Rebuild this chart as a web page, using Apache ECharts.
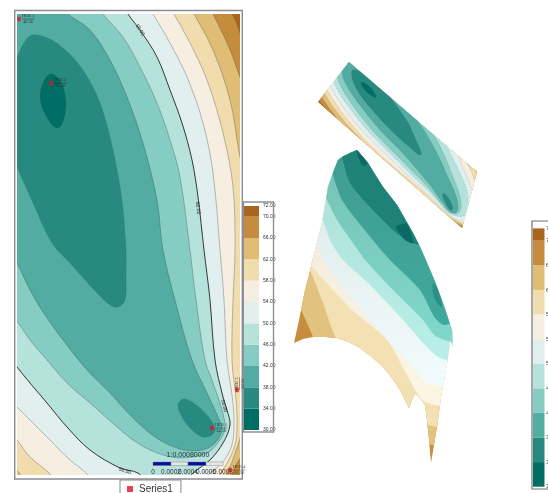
<!DOCTYPE html>
<html><head><meta charset="utf-8">
<style>html,body{margin:0;padding:0;background:#fff;overflow:hidden}#c{width:548px;height:493px;filter:blur(0.45px)}</style>
<script src="https://cdn.jsdelivr.net/npm/echarts@6/dist/echarts.min.js"></script>
</head><body><div id="c"></div>
<script>
// Colour ramp, one colour per 4-unit band
const bandLow  = [30,34,38,42,46,50,54,58,62,66,70];
const bandHigh = [34,38,42,46,50,54,58,62,66,70,72];
const bandColors = ['#006e64','#27897f','#52aca1','#85cdc2','#b6e2dc','#e1f0ee','#f6efe1','#f0dcac','#dfbd74','#c58c3d','#a9651d'];
const legendTicks = [30,34,38,42,46,50,54,58,62,66,70,72];

// Contour regions of the plan map ("everything below this level")
const contour70 = [[226,2],[232,14],[236,22],[241,36],[250,55],[260,200],[260,500],[-10,500],[-10,-10],[100,-14]];
const contour66 = [[207,2],[213,14],[222,32],[231,52],[240,77],[250,100],[262,300],[262,440],[243,455],[236,465],[232,476],[228,490],[100,500],[-10,500],[-10,-10],[100,-12]];
const contour62 = [[187,2],[194,14],[213,50],[230,100],[239,152],[248,200],[255,300],[250,420],[243,430],[238,445],[232,462],[226,476],[222,490],[100,495],[22,490],[20,474],[16,470],[5,462],[-10,440],[-12,-10],[100,-12]];
const contour58 = [[167,2],[174,14],[190,43],[207,80],[223,133],[233,187],[235,250],[233,300],[232,360],[236,400],[237,425],[235,445],[226,465],[219,476],[214,490],[130,495],[60,490],[50,474],[30,457],[17,440],[4,425],[-10,400],[-12,-10],[80,-12]];
const contour54 = [[146,2],[153,14],[170,43],[187,77],[203,123],[213,173],[220,250],[224,300],[227,360],[232,395],[234,420],[232,445],[222,463],[207,476],[200,490],[130,495],[97,490],[87,474],[70,460],[50,440],[30,420],[17,407],[4,392],[-10,370],[-12,-10],[70,-12]];
const contour50 = [[122,2],[128,14],[140,30],[157,57],[170,90],[182,123],[192,160],[198,197],[204,250],[210,300],[215,360],[223,397],[227,410],[230,425],[223,443],[210,460],[193,473],[183,485],[150,485],[138,473],[120,468],[90,450],[67,427],[47,403],[30,383],[17,367],[4,350],[-10,330],[-12,-10],[60,-12]];
const contour46 = [[97,2],[103,14],[123,37],[140,67],[157,103],[170,140],[180,177],[190,250],[196,300],[205,360],[212,380],[222,410],[225,428],[220,440],[207,453],[183,458],[167,456],[150,450],[133,440],[117,427],[90,403],[67,383],[47,360],[30,340],[17,321],[4,305],[-10,285],[-12,-10],[40,-12]];
const contour42 = [[60,4],[68,14],[90,30],[110,60],[127,97],[143,143],[157,200],[163,250],[175,300],[192,360],[207,393],[218,417],[222,430],[215,443],[202,450],[180,449],[155,437],[130,415],[110,393],[87,370],[63,340],[45,315],[30,290],[17,263],[4,240],[-10,215],[-12,-10],[20,-12],[45,-5]];
const contour38 = [[17,57],[30,36],[45,37],[63,48],[83,70],[100,103],[113,150],[122,200],[126,250],[126,276],[125,300],[118,307],[110,305],[97,293],[70,263],[52,243],[33,203],[17,167],[6,140],[4,90]];
const basinSouth38 = [[178,405],[183,399],[192,402],[205,413],[215,428],[212,435],[203,437],[192,430],[182,417]];
const basinNorth34 = [[50,74],[43,83],[40,97],[44,112],[52,125],[58,128],[63,122],[66,105],[64,90],[58,78]];

// Surface view: boundary of each band across the draped surface
const surfaceOutline = [[357,150],[368,163],[376,176],[383,187],[397,205],[405,219],[413,233],[421,249],[428,265],[436,284],[443,303],[448,318],[452,330],[453,347],[450,340],[449,350],[447,363],[444,380],[441,397],[439,412],[437,427],[434,445],[431,463],[429,440],[427,420],[425,405],[420,398],[415,393],[412,400],[409,408],[405,400],[400,390],[392,378],[383,367],[372,357],[360,348],[349,342],[337,338],[325,337],[313,337],[303,339],[294,343],[299,320],[305,290],[309,275],[312,262],[317,243],[322,223],[325,205],[328,187],[334,170],[338,160],[342,157],[350,153]];
const surface66 = [[292,295],[302,312],[308,325],[318,345],[425,442],[470,442],[470,120],[290,120]];
const surface62 = [[302,258],[310,270],[323,303],[340,345],[420,422],[470,422],[470,120],[290,120]];
const surface58 = [[300,250],[313,268],[333,290],[352,310],[387,340],[407,375],[425,402],[470,403],[470,120],[290,120]];
const surface54 = [[308,230],[316,241],[323,260],[353,300],[385,337],[410,365],[428,383],[470,384],[470,120],[290,120]];
const surface50 = [[315,205],[323,220],[330,240],[343,260],[370,285],[403,320],[425,345],[440,358],[470,361],[470,120],[300,120]];
const surface46 = [[322,190],[328,202],[337,220],[360,253],[365,260],[393,290],[423,320],[437,337],[470,342],[470,120],[310,120]];
const surface42 = [[328,155],[333,175],[342,200],[367,233],[390,260],[420,290],[435,318],[445,325],[470,310],[470,120],[315,120]];
const surface38 = [[340,150],[342,157],[350,183],[370,207],[393,230],[410,242],[430,245],[430,120],[340,120]];
const surfaceSpotA = [[357,150],[368,163],[363,166],[358,157]];
const surfaceSpotB = [[396,227],[407,224],[413,243],[405,240]];
const surfaceSpotC = [[433,283],[438,290],[442,307],[437,303],[433,293]];

// Wells
const wellNames = ['HEB 1','HEB 2','HEB 5','HEB 3','HEB 4'];
const wellX = [19,51,212,237,230];
const wellY = [19,83,428,390,470];
const wellValues = ['40.50','32.50','34.50','62.50','66.50'];

// Contour labels along the 50 level
const labelX = [140,198,224,125];
const labelY = [30,208,406,471];
const labelAngle = [-58,-82,-75,-16];
const labelText = ['50.00','50.00','50.00','50.00'];

// Scale bar
const scaleStops = [153,171,188,206,223];
const scaleTicks = ['0','0.0002','0.0004','0.0006','0.0008'];
const scaleTitle = '1:0.00080000';

const fill = v => bandColors[bandLow.indexOf(v)];
const mapLayers = [
  {p:contour70,c:fill(66)},{p:contour66,c:fill(62),l:1},{p:contour62,c:fill(58),l:1},{p:contour58,c:fill(54),l:1},
  {p:contour54,c:fill(50),l:1},{p:contour50,c:fill(46),k:1},{p:contour46,c:fill(42),l:1},{p:contour42,c:fill(38),l:1},
  {p:contour38,c:fill(34)},{p:basinSouth38,c:fill(34)},{p:basinNorth34,c:fill(30)}
];
const surfaceLayers = [
  {p:surface66,c:'#e2c27f'},{p:surface62,c:'#f3e0b3'},{p:surface58,c:['#eae6da','#fdf6e4']},{p:surface54,c:['#d6e2e3','#f2fcfc']},
  {p:surface50,c:['#a9dcd3','#b9efe8']},{p:surface46,c:['#73bdb0','#80d8ca']},{p:surface42,c:['#429a90','#3fa99d']},
  {p:surface38,c:'#1f8278'},{p:surfaceSpotA,c:'#0d6a62'},{p:surfaceSpotB,c:'#0d6a62'},{p:surfaceSpotC,c:'#2a8f85'}
];

const G = echarts.graphic;
const paint = c => Array.isArray(c) ? new G.LinearGradient(0,0,0,1,[{offset:0,color:c[0]},{offset:1,color:c[1]}]) : c;
const mapRect = {left:17,top:14,width:223,height:461};
// Oblique plan view: corners of the tilted sheet that the map is drawn on
const sheetNW=[349,62], sheetNE=[318,102], sheetSW=[477,172], sheetSE=[462,228];
const toSheet = (pt)=>{
  const u=(pt[0]-mapRect.left)/mapRect.width, v=(pt[1]-mapRect.top)/mapRect.height;
  const a=(1-u)*(1-v), b=u*(1-v), c=u*v, d=(1-u)*v;
  return [a*sheetNW[0]+b*sheetNE[0]+c*sheetSE[0]+d*sheetSW[0],
          a*sheetNW[1]+b*sheetNE[1]+c*sheetSE[1]+d*sheetSW[1]];
};

function mapSeries(){
  return {type:'custom',name:'plan',coordinateSystem:'cartesian2d',xAxisIndex:0,yAxisIndex:0,clip:true,z:2,silent:true,
    data:[[0]].concat(mapLayers.map((l,i)=>[i+1])),
    renderItem(params,api){
      const i=api.value(0);
      if(i===0){const a=api.coord([17,14]),b=api.coord([240,475]);
        return {type:'rect',shape:{x:a[0],y:a[1],width:b[0]-a[0],height:b[1]-a[1]},style:{fill:bandColors[10]}};}
      const L=mapLayers[i-1];
      return {type:'polygon',shape:{points:L.p.map(q=>api.coord(q)),smooth:0.35},
        style:{fill:L.c,stroke:L.k?'#222':(L.l?'rgba(50,60,60,0.55)':'rgba(50,90,85,0.25)'),lineWidth:L.k?0.9:0.6}};
    }};
}
function sheetSeries(){
  return {type:'custom',name:'sheet',coordinateSystem:'cartesian2d',xAxisIndex:0,yAxisIndex:0,clip:false,z:2,silent:true,
    data:[[0]].concat(mapLayers.map((l,i)=>[i+1])),
    renderItem(params,api){
      const i=api.value(0);
      const corners=[[17,14],[240,14],[240,475],[17,475]].map(q=>toSheet(api.coord(q)));
      const clip={type:'polygon',shape:{points:corners}};
      if(i===0) return {type:'polygon',shape:{points:corners},style:{fill:bandColors[10]}};
      const L=mapLayers[i-1];
      return {type:'polygon',clipPath:clip,shape:{points:L.p.map(q=>toSheet(api.coord(q))),smooth:0.35},
        style:{fill:L.c,stroke:L.k?'rgba(40,60,90,0.5)':'rgba(50,60,60,0.2)',lineWidth:0.5,lineDash:L.k?[1,2]:null}};
    }};
}
function surfaceSeries(){
  return {type:'custom',name:'surface',coordinateSystem:'cartesian2d',xAxisIndex:1,yAxisIndex:1,clip:false,z:2,silent:true,
    data:[[0]].concat(surfaceLayers.map((l,i)=>[i+1])),
    renderItem(params,api){
      const i=api.value(0);
      const outline=surfaceOutline.map(q=>api.coord(q));
      if(i===0) return {type:'polygon',shape:{points:outline},style:{fill:'#c68d3e'}};
      const L=surfaceLayers[i-1];
      return {type:'polygon',clipPath:{type:'polygon',shape:{points:outline}},
        shape:{points:L.p.map(q=>api.coord(q)),smooth:0.25},style:{fill:paint(L.c)}};
    }};
}
function bandSeries(ix){
  return {type:'custom',name:'ramp'+ix,coordinateSystem:'cartesian2d',xAxisIndex:ix,yAxisIndex:ix,z:2,silent:true,
    data:bandLow.map((v,i)=>[i]),
    renderItem(params,api){
      const i=api.value(0);
      const a=api.coord([0,bandHigh[i]]),b=api.coord([1,bandLow[i]]);
      return {type:'rect',shape:{x:a[0],y:a[1],width:b[0]-a[0],height:b[1]-a[1]},style:{fill:bandColors[i]}};
    }};
}
function annotationSeries(){
  const font='"Liberation Sans Narrow","Liberation Sans",sans-serif';
  return {type:'custom',name:'annotations',coordinateSystem:'cartesian2d',xAxisIndex:0,yAxisIndex:0,clip:false,z:4,silent:true,
    data:[[0]],
    renderItem(params,api){
      const kids=[];
      labelX.forEach((x,i)=>{const p=api.coord([x,labelY[i]]);
        kids.push({type:'text',x:p[0],y:p[1],rotation:labelAngle[i]*Math.PI/180,
          style:{text:labelText[i],fontSize:5,fontFamily:font,fill:'#222',align:'center',verticalAlign:'middle'}});});
      scaleStops.slice(0,-1).forEach((x,i)=>{
        const a=api.coord([x,462]),b=api.coord([scaleStops[i+1],465.5]);
        kids.push({type:'rect',shape:{x:a[0],y:a[1],width:b[0]-a[0],height:b[1]-a[1]},
          style:{fill:i%2?'#e6e6e6':'#0a0aa8',stroke:'#777',lineWidth:0.4}});});
      scaleTicks.forEach((t,i)=>{const p=api.coord([scaleStops[i],472]);
        kids.push({type:'text',x:p[0],y:p[1],style:{text:t,fontSize:6.5,fontFamily:font,fill:'#333',align:'center',verticalAlign:'middle'}});});
      const tp=api.coord([188,455]);
      kids.push({type:'text',x:tp[0],y:tp[1],style:{text:scaleTitle,fontSize:7,fontFamily:font,fill:'#333',align:'center',verticalAlign:'middle'}});
      return {type:'group',children:kids};
    }};
}
const wellLabel=(pos,rot)=>({show:true,position:pos,distance:1,rotate:rot||0,formatter:p=>`{n|${p.name}}\n{h|}\n{v|${p.value[2]}}`,
  rich:{n:{fontSize:4.6,lineHeight:5,fontFamily:'Liberation Sans Narrow',color:'#222',align:'center'},
        h:{backgroundColor:'#222',width:'100%',height:0.5,lineHeight:1},
        v:{fontSize:4.6,lineHeight:5,fontFamily:'Liberation Sans Narrow',color:'#222',align:'center'}}});
const wellSeries={type:'scatter',name:'Series1',xAxisIndex:0,yAxisIndex:0,z:6,symbol:'rect',symbolSize:[3.5,4.5],clip:false,silent:true,
  itemStyle:{color:'#e5102c'},
  data:wellNames.map((n,i)=>({name:n,value:[wellX[i],wellY[i],wellValues[i]],label:wellLabel('right',i===3?90:0)}))};

const hidden=(min,max,inv)=>({type:'value',min,max,inverse:!!inv,show:false});
const rampY=(fs,margin)=>({type:'value',min:30,max:72,position:'right',
  axisLine:{show:false},axisTick:{show:false},splitLine:{show:false},
  axisLabel:{show:true,customValues:legendTicks,fontSize:fs,margin,color:'#333',showMinLabel:true,showMaxLabel:true,
    fontFamily:'"Liberation Sans Narrow","Liberation Sans",sans-serif',formatter:v=>v.toFixed(2)}});

const chart=echarts.init(document.getElementById('c'),null,{renderer:'canvas',width:548,height:493});
chart.setOption({
  animation:false,backgroundColor:'#fff',
  legend:{left:120,top:480,padding:[4,8,4,7],data:['Series1'],icon:'rect',itemWidth:6,itemHeight:6,itemGap:0,
    borderColor:'#8a8a8a',borderWidth:1,textStyle:{fontSize:10,color:'#333',fontFamily:'"Liberation Sans Narrow","Liberation Sans",sans-serif',padding:[0,0,0,1]}},
  grid:[
    {...mapRect,outerBoundsMode:'none'},
    {left:0,top:0,width:548,height:493,outerBoundsMode:'none'},
    {left:244,top:206,width:15,height:224,outerBoundsMode:'none'},
    {left:533,top:228.4,width:11.5,height:258.3,outerBoundsMode:'none'}
  ],
  xAxis:[hidden(17,240),{...hidden(0,548),gridIndex:1},{...hidden(0,1),gridIndex:2},{...hidden(0,1),gridIndex:3}],
  yAxis:[hidden(14,475,true),{...hidden(0,493,true),gridIndex:1},{...rampY(5,4),gridIndex:2},{...rampY(6,1.5),gridIndex:3}],
  graphic:[
    {type:'rect',z:1,shape:{x:14.7,y:10.5,width:227.6,height:468.5},style:{fill:'none',stroke:'#8b8b92',lineWidth:1.4}},
    {type:'rect',z:1,shape:{x:243.5,y:202,width:30,height:230},style:{fill:'none',stroke:'#8f8f9a',lineWidth:1.4}},
    {type:'rect',z:1,shape:{x:532,y:221,width:40,height:268},style:{fill:'none',stroke:'#6f6f78',lineWidth:1.2}}
  ],
  series:[mapSeries(),sheetSeries(),surfaceSeries(),bandSeries(2),bandSeries(3),annotationSeries(),wellSeries]
});
</script></body></html>
